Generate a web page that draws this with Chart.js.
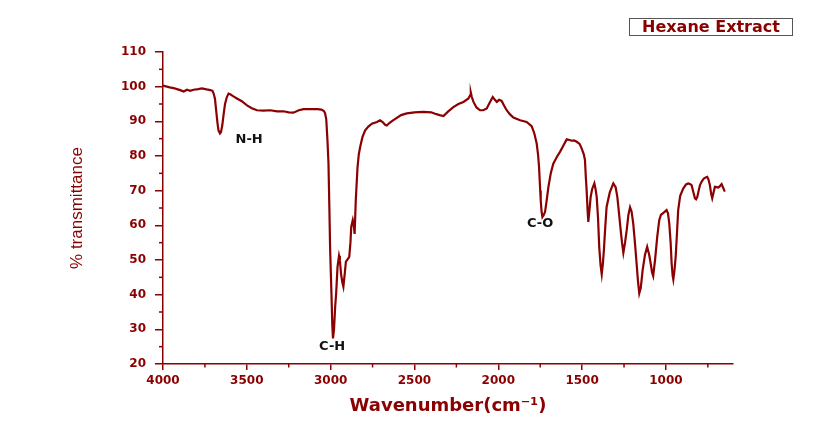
<!DOCTYPE html>
<html>
<head>
<meta charset="utf-8">
<script src="https://cdn.jsdelivr.net/npm/chart.js@4.4.0/dist/chart.umd.min.js"></script>
<style>
body { margin: 0; background: #fff; }
#wrap { position: relative; width: 836px; height: 430px; }
#legend {
  position: absolute; left: 629px; top: 18px; width: 162px; height: 16px;
  border: 1.5px solid #555; font: bold 16px "DejaVu Sans"; color: #8b0000;
  text-align: center; line-height: 16px;
}
</style>
</head>
<body>
<div id="wrap">
  <canvas id="ftir" width="836" height="430"></canvas>
  <div id="legend">Hexane Extract</div>
</div>
<script>
var wavenumber = [4000, 3960, 3937, 3917, 3897, 3877, 3857, 3838, 3818, 3790, 3768, 3740, 3718, 3705, 3698, 3690,
  3682, 3675, 3669, 3660, 3654, 3646, 3639, 3630, 3619, 3609, 3599, 3580, 3559, 3530, 3499, 3470, 3440, 3400,
  3360, 3320, 3281, 3250, 3222, 3190, 3162, 3120, 3080, 3055, 3040, 3033, 3026, 3019, 3013, 3008, 3003, 2995,
  2990, 2986, 2980, 2973, 2967, 2959, 2950, 2945, 2938, 2930, 2924, 2916, 2909, 2899, 2889, 2882, 2877, 2868,
  2862, 2857, 2850, 2840, 2832, 2824, 2810, 2794, 2775, 2754, 2724, 2705, 2690, 2675, 2665, 2650, 2630, 2605,
  2580, 2546, 2500, 2446, 2400, 2377, 2350, 2327, 2300, 2268, 2238, 2208, 2178, 2168, 2164, 2158, 2148, 2130,
  2109, 2090, 2069, 2050, 2033, 2020, 2009, 1995, 1980, 1965, 1950, 1930, 1910, 1870, 1831, 1801, 1785, 1771,
  1763, 1757, 1750, 1747, 1742, 1737, 1729, 1721, 1712, 1701, 1687, 1672, 1650, 1632, 1610, 1592, 1575, 1562,
  1548, 1532, 1515, 1503, 1490, 1483, 1478, 1473, 1467, 1463, 1456, 1449, 1440, 1427, 1420, 1413, 1405, 1398,
  1390, 1383, 1376, 1370, 1362, 1354, 1335, 1314, 1300, 1290, 1280, 1270, 1262, 1254, 1244, 1234, 1224, 1214,
  1205, 1195, 1185, 1175, 1167, 1159, 1150, 1139, 1125, 1112, 1100, 1091, 1083, 1076, 1065, 1052, 1040, 1030,
  1010, 996, 988, 980, 972, 966, 960, 956, 949, 942, 935, 927, 915, 897, 880, 867, 857, 847, 837, 827, 820, 813,
  805, 797, 785, 774, 760, 754, 746, 738, 730, 724, 716, 708, 698, 688, 678, 668, 660, 649];
var transmittance = [100.3, 99.8, 99.6, 99.3, 99.0, 98.6, 99.1, 98.8, 99.1, 99.3, 99.5, 99.2, 99.0, 98.8, 98.0, 96.5,
  92.7, 89.5, 87.4, 86.5, 86.9, 89.0, 91.8, 95.0, 97.0, 98.0, 97.8, 97.2, 96.6, 95.8, 94.6, 93.8, 93.2, 93.1,
  93.2, 92.9, 92.9, 92.6, 92.5, 93.2, 93.5, 93.5, 93.5, 93.4, 93.0, 92.3, 90.5, 84.5, 78, 66, 53, 40,
  31, 27.4, 30, 36.5, 40.5, 48, 51.2, 50.0, 46.0, 43.5, 42.3, 46, 49.5, 50.2, 50.9, 55, 59.6, 61.5,
  60, 57.5, 67.3, 76.5, 80.5, 82.6, 85.5, 87.4, 88.5, 89.3, 89.8, 90.3, 89.8, 89.0, 88.8, 89.5, 90.2, 91.0,
  91.8, 92.3, 92.6, 92.7, 92.6, 92.2, 91.8, 91.5, 92.8, 94.1, 95.0, 95.6, 96.6, 97.5, 98.3, 97.0, 95.6, 94.0,
  93.2, 93.2, 93.7, 95.5, 97.0, 96.2, 95.6, 96.2, 95.9, 94.5, 93.2, 92.0, 91.1, 90.3, 89.8, 88.6, 86.5, 83.6,
  80.5, 76.9, 70, 67.3, 64, 62.4, 63.0, 63.9, 67, 71.1, 75, 77.8, 79.8, 81.2, 83.2, 84.8, 84.6, 84.4,
  84.5, 84.1, 83.5, 82.2, 80.5, 78.8, 74, 70.1, 64, 61.0, 64.5, 68.2, 70.5, 72.1, 70.5, 68.2, 62, 53.8,
  48.5, 45.9, 49, 52.9, 59.5, 65.3, 69.5, 72.1, 71.0, 68.2, 63.5, 58.6, 55, 52.1, 55, 58.6, 63, 65.2,
  64.0, 60.5, 55, 49.0, 44, 40.4, 42, 47.1, 51.5, 53.8, 51.5, 49.0, 46.5, 45.4, 50, 56.7, 61.5, 63.0,
  63.8, 64.4, 63.5, 60.5, 55, 49, 45.5, 44.4, 47, 50.9, 57, 64.4, 68.5, 70.6, 71.8, 72.1, 71.9, 71.6, 69.7, 67.8, 67.5, 68.2,
  70, 71.6, 72.8, 73.5, 73.9, 74.0, 73.2, 71.6, 69, 67.8, 69.5, 71.1, 71.0, 70.9, 71.3, 71.9, 71.0, 69.7];

var xTicks = [4000, 3500, 3000, 2500, 2000, 1500, 1000];
var xMinorTicks = [3750, 3250, 2750, 2250, 1750, 1250, 750];
var yTicks = [20, 30, 40, 50, 60, 70, 80, 90, 100, 110];
var yMinorTicks = [25, 35, 45, 55, 65, 75, 85, 95, 105];

var peakNames = ['N-H', 'C-H', 'C-O'];
var peakWavenumber = [3486, 2991, 1751];
var peakValue = [84.8, 24.9, 60.6];

var red = '#8b0000';

var points = wavenumber.map(function (w, i) { return { x: w, y: transmittance[i] }; });

// minor ticks and band labels, placed through the chart scales
var extras = {
  id: 'extras',
  afterDraw: function (chart) {
    var ctx = chart.ctx, xs = chart.scales.x, ys = chart.scales.y;
    ctx.save();
    ctx.strokeStyle = red;
    ctx.lineWidth = 1.5;
    xMinorTicks.forEach(function (v) {
      var px = xs.getPixelForValue(v);
      ctx.beginPath(); ctx.moveTo(px, xs.top); ctx.lineTo(px, xs.top + 3.5); ctx.stroke();
    });
    yMinorTicks.forEach(function (v) {
      var py = ys.getPixelForValue(v);
      ctx.beginPath(); ctx.moveTo(ys.right, py); ctx.lineTo(ys.right - 4, py); ctx.stroke();
    });
    ctx.fillStyle = '#111';
    ctx.font = 'bold 13px "DejaVu Sans"';
    ctx.textAlign = 'center';
    ctx.textBaseline = 'middle';
    peakNames.forEach(function (name, i) {
      ctx.fillText(name, xs.getPixelForValue(peakWavenumber[i]), ys.getPixelForValue(peakValue[i]));
    });
    ctx.restore();
  }
};

var plain = function (v) { return String(v); };

new Chart(document.getElementById('ftir'), {
  type: 'line',
  data: {
    datasets: [{
      label: 'Hexane Extract',
      data: points,
      borderColor: red,
      borderWidth: 2.2,
      pointRadius: 0,
      tension: 0,
      fill: false
    }]
  },
  options: {
    responsive: false,
    animation: false,
    layout: { padding: { left: 0, right: 103, top: 52, bottom: 0 } },
    plugins: { legend: { display: false }, tooltip: { enabled: false } },
    scales: {
      x: {
        type: 'linear',
        reverse: true,
        min: 600,
        max: 4000,
        afterBuildTicks: function (scale) { scale.ticks = xTicks.map(function (v) { return { value: v }; }); },
        afterFit: function (scale) { scale.height = 66; },
        grid: { display: true, drawOnChartArea: false, drawTicks: true, tickLength: 6, color: red, lineWidth: 1.5 },
        border: { display: true, color: red, width: 1.5 },
        ticks: { color: red, font: { family: 'DejaVu Sans', size: 12, weight: 'bold' }, padding: 4, maxRotation: 0, callback: plain },
        title: {
          display: true,
          text: 'Wavenumber(cm\u207B\u00B9)',
          color: red,
          font: { family: 'DejaVu Sans', size: 18, weight: 'bold' },
          padding: { top: 0, bottom: 13 }
        }
      },
      y: {
        min: 20,
        max: 110,
        afterBuildTicks: function (scale) { scale.ticks = yTicks.map(function (v) { return { value: v }; }); },
        afterFit: function (scale) { scale.width = 163; },
        grid: { display: true, drawOnChartArea: false, drawTicks: true, tickLength: 8, color: red, lineWidth: 1.5 },
        border: { display: true, color: red, width: 1.5 },
        ticks: { color: red, font: { family: 'DejaVu Sans', size: 12, weight: 'bold' }, padding: 9, callback: plain },
        title: {
          display: true,
          text: '% transmittance',
          color: red,
          font: { family: 'Liberation Sans', size: 17 },
          padding: { top: 67, bottom: 0 }
        }
      }
    }
  },
  plugins: [extras]
});
</script>
</body>
</html>
